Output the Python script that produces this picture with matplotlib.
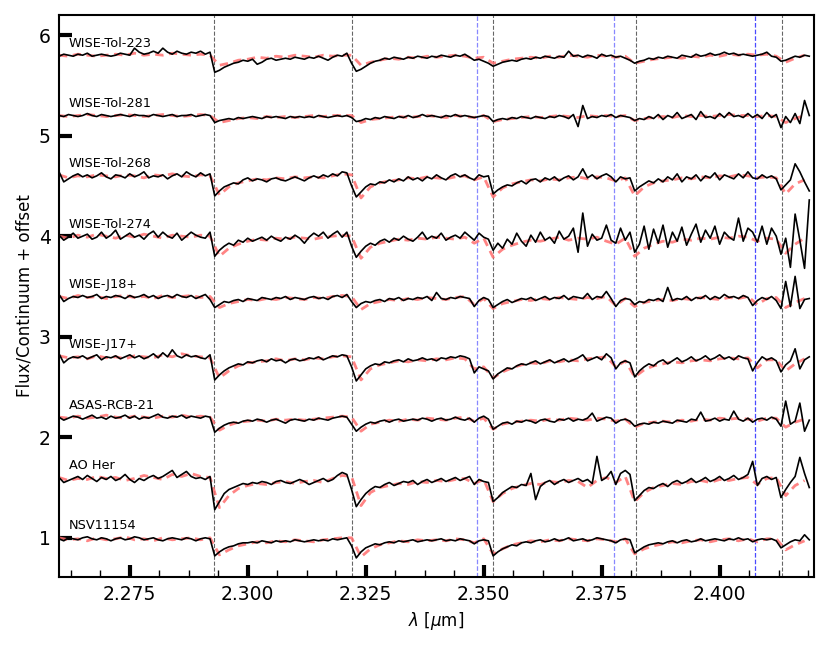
import numpy as np
import matplotlib
matplotlib.use("Agg")
import matplotlib.pyplot as plt
from matplotlib.ticker import AutoMinorLocator

# observed spectra, flux/continuum in percent, 2.260-2.419 um every 0.001 um
obs_start, obs_step = 2.260, 0.001
# model spectra, flux/continuum in percent, 2.260-2.418 um every 0.002 um
mod_start, mod_step = 2.260, 0.002

stars = ["NSV11154", "AO Her", "ASAS-RCB-21", "WISE-J17+", "WISE-J18+",
         "WISE-Tol-274", "WISE-Tol-268", "WISE-Tol-281", "WISE-Tol-223"]
offsets = [0.0, 0.6, 1.2, 1.8, 2.4, 3.0, 3.6, 4.2, 4.8]

# 12CO bandheads (black) and 13CO bandheads (blue)
co12_lines = [2.2929, 2.3221, 2.3519, 2.3822, 2.4133]
co13_lines = [2.3485, 2.3776, 2.4074]

obs_nsv11154 = [
    99, 97, 100, 99, 98, 100, 101, 99, 98, 100, 99, 97, 99, 100, 98, 99, 101, 100, 98, 99,
    100, 98, 97, 99, 100, 99, 98, 100, 99, 97, 99, 100, 99,
    82,
    86, 89, 91, 92, 94, 95, 95, 96, 95, 97, 96, 95, 97, 96, 97, 96, 98, 97, 96, 97,
    98, 97, 98, 97, 99, 98, 99, 100,
    92, 80,
    86, 90, 92, 94, 93, 95, 96, 95, 97, 96, 97, 98, 96, 97, 98, 97, 98, 99, 97, 98,
    97, 99, 98, 97,
    94, 97, 98, 97, 82,
    86, 89, 91, 93, 92, 95, 96, 95, 97, 98, 96, 97, 99, 97, 98, 100, 97, 98, 99, 97,
    98, 100, 99, 98, 97,
    95, 98, 99, 98, 85,
    88, 91, 93, 94, 95, 94, 96, 97, 95, 97, 98, 96, 97, 99, 97, 98, 99, 98, 97, 99,
    98, 100, 98, 99,
    96, 98, 99, 98, 99, 97, 90,
    93, 96, 98, 97, 103, 98]
obs_ao_her = [
    100, 95, 97, 99, 101, 98, 102, 99, 96, 100, 98, 101, 97, 99, 103, 98, 95, 99, 97, 100,
    102, 99, 101, 104, 107, 100, 103, 106, 101, 99, 100, 98, 101,
    68,
    76, 84, 88, 90, 92, 94, 93, 95, 94, 96, 95, 93, 96, 97, 95, 94, 96, 98, 96, 93,
    95, 97, 99, 96, 98, 102, 105, 103,
    88, 71,
    78, 84, 88, 91, 90, 93, 95, 92, 94, 96, 95, 97, 93, 96, 98, 95, 97, 99, 96, 98,
    100, 97, 99, 101,
    93, 98, 96, 95, 76,
    80, 85, 88, 91, 90, 93, 92, 104, 78, 91, 95, 97, 93, 96, 98, 95, 97, 99, 96, 98,
    94, 121, 97, 100, 106,
    93, 104, 107, 103, 77,
    82, 87, 90, 89, 92, 94, 91, 95, 97, 94, 96, 99, 95, 97, 100, 96, 98, 101, 97, 99,
    102, 98, 100, 103,
    116, 92, 99, 101, 98, 100, 80,
    88, 95, 101, 120, 104, 90]
obs_asas_rcb_21 = [
    100, 97, 99, 101, 100, 98, 100, 102, 99, 100, 98, 101, 99, 100, 102, 99, 101, 98, 100, 99,
    101, 103, 100, 99, 101, 100, 102, 99, 101, 100, 99, 101, 100,
    85,
    89, 92, 94, 95, 94, 96, 97, 96, 98, 97, 95, 97, 98, 96, 94, 97, 98, 97, 96, 98,
    97, 99, 98, 97, 99, 100, 101, 100,
    93, 86,
    90, 93, 95, 94, 96, 97, 95, 97, 98, 96, 97, 98, 97, 99, 98, 96, 98, 99, 97, 98,
    100, 98, 97, 99,
    95, 99, 101, 98, 88,
    91, 94, 95, 93, 96, 95, 97, 96, 94, 97, 98, 96, 95, 98, 97, 99, 96, 98, 97, 99,
    104, 96, 98, 100, 99,
    94, 97, 98, 96, 91,
    93, 94, 93, 95, 94, 96, 95, 94, 97, 96, 95, 98, 97, 105, 96, 97, 99, 96, 98, 97,
    106, 98, 96, 99,
    95, 98, 99, 97, 100, 98, 91,
    116, 93, 96, 114, 86, 97]
obs_wise_j17 = [
    103, 94, 98, 100, 99, 101, 98, 100, 102, 97, 100, 99, 101, 98, 100, 102, 99, 101, 98, 100,
    103, 99, 104, 100, 107, 101, 99, 102, 100, 101, 99, 98, 102,
    77,
    82, 86, 89, 91, 93, 92, 95, 94, 96, 97, 95, 98, 96, 97, 94, 97, 98, 96, 97, 99,
    98, 100, 97, 99, 101, 100, 102, 101,
    90, 76,
    82, 88, 91, 93, 92, 95, 94, 96, 97, 95, 98, 96, 97, 99, 97, 98, 96, 99, 98, 100,
    99, 101, 100, 98,
    84, 90, 88, 86, 78,
    83, 86, 89, 88, 91, 93, 92, 94, 96, 93, 95, 97, 94, 96, 98, 95, 97, 99, 102, 96,
    98, 100, 97, 103, 99,
    88, 94, 96, 94, 80,
    86, 90, 93, 91, 95, 97, 93, 96, 99, 95, 97, 100, 96, 98, 101, 97, 99, 102, 98, 100,
    97, 101, 99, 98,
    86, 94, 100, 97, 99, 96, 85,
    92, 96, 108, 88, 97, 100]
obs_wise_j18 = [
    102, 95, 98, 100, 99, 101, 99, 100, 102, 98, 100, 99, 101, 100, 98, 101, 99, 100, 102, 99,
    101, 98, 100, 101, 99, 102, 100, 99, 101, 98, 100, 102, 97,
    89,
    92, 95, 94, 96, 97, 95, 98, 97, 96, 99, 98, 97, 99, 98, 100, 97, 99, 98, 97, 99,
    100, 98, 99, 97, 100, 101, 99, 102,
    95, 89,
    93, 95, 94, 96, 97, 95, 98, 97, 99, 96, 98, 97, 99, 98, 100, 96, 104, 98, 97, 99,
    98, 100, 99, 98,
    90, 96, 99, 97, 89,
    92, 95, 97, 94, 96, 98, 97, 99, 96, 98, 100, 97, 99, 98, 101, 97, 100, 99, 98, 103,
    97, 100, 99, 105, 98,
    90, 96, 98, 97, 92,
    95, 94, 97, 96, 98, 95, 109, 96, 98, 97, 100, 96, 99, 98, 101, 97, 100, 98, 102, 99,
    100, 98, 101, 99,
    91, 96, 99, 97, 100, 96, 88,
    115, 90, 120, 88, 97, 98]
obs_wise_tol_274 = [
    101, 96, 99, 103, 98, 100, 102, 97, 99, 104, 98, 101, 106, 97, 100, 103, 99, 101, 97, 102,
    105, 99, 104, 100, 98, 103, 96, 100, 104, 101, 99, 98, 104,
    80,
    86, 90, 93, 91, 96, 94, 98, 95, 97, 99, 96, 100, 97, 95, 99, 97, 101, 98, 93, 99,
    103, 100, 104, 98, 102, 105, 99, 104,
    90, 79,
    85, 90, 93, 91, 95, 97, 94, 98, 96, 100, 97, 95, 99, 104, 97, 100, 98, 103, 96, 99,
    101, 98, 104, 100,
    96, 103, 99, 97, 86,
    93, 88, 97, 92, 103, 95, 90, 101, 94, 104, 96, 99, 93, 105, 97, 100, 108, 84, 123, 90,
    102, 96, 98, 111, 96,
    93, 108, 96, 104, 84,
    92, 110, 87, 107, 93, 111, 89, 104, 95, 109, 91, 102, 112, 94, 106, 98, 110, 92, 104, 99,
    96, 118, 95, 108,
    104, 94, 110, 92, 108, 100, 82,
    98, 69, 122, 96, 68, 136]
obs_wise_tol_268 = [
    104, 94, 97, 100, 102, 99, 101, 98, 100, 103, 99, 97, 101, 100, 98, 102, 99, 101, 104, 98,
    100, 99, 101, 97, 100, 102, 99, 104, 101, 99, 103, 100, 102,
    80,
    85, 89, 91, 93, 92, 96, 98, 95, 97, 96, 94, 97, 98, 96, 95, 97, 99, 97, 95, 98,
    100, 98, 101, 99, 102, 100, 104, 103,
    90, 79,
    84, 89, 92, 91, 94, 93, 96, 94, 97, 95, 99, 96, 98, 95, 99, 97, 101, 98, 96, 100,
    102, 99, 101, 98,
    96, 101, 99, 100, 82,
    86, 89, 91, 90, 93, 95, 92, 96, 97, 94, 98, 96, 99, 95, 98, 100, 96, 99, 107, 98,
    101, 97, 100, 102, 99,
    94, 99, 97, 98, 85,
    89, 92, 95, 93, 97, 94, 99, 96, 102, 94, 99, 97, 101, 95, 100, 98, 103, 96, 101, 99,
    97, 102, 98, 104,
    98, 97, 101, 98, 100, 97, 86,
    91, 96, 112, 104, 94, 85]
obs_wise_tol_281 = [
    100, 99, 101, 100, 99, 100, 102, 100, 99, 101, 100, 99, 100, 101, 100, 99, 101, 100, 100, 99,
    101, 100, 99, 100, 101, 99, 100, 100, 101, 99, 100, 101, 100,
    93,
    95, 96, 97, 96, 98, 97, 98, 99, 98, 97, 99, 98, 99, 98, 97, 99, 98, 99, 98, 99,
    98, 100, 99, 98, 99, 100, 99, 100,
    98, 94,
    95, 97, 96, 98, 97, 99, 98, 97, 99, 98, 100, 98, 99, 101, 99, 100, 99, 98, 100, 99,
    101, 99, 100, 99,
    98, 99, 100, 99, 94,
    96, 97, 96, 98, 97, 99, 98, 97, 99, 98, 97, 99, 98, 100, 99, 97, 101, 89, 110, 97,
    99, 98, 100, 99, 101,
    98, 100, 99, 98, 95,
    97, 96, 99, 97, 101, 96, 100, 98, 103, 97, 99, 101, 96, 104, 98, 99, 97, 102, 98, 103,
    99, 100, 98, 102,
    98, 101, 97, 103, 98, 101, 88,
    99, 93, 102, 92, 115, 100]
obs_wise_tol_223 = [
    99, 101, 100, 99, 101, 100, 102, 99, 100, 101, 100, 99, 100, 102, 101, 100, 107, 103, 101, 102,
    104, 102, 107, 103, 101, 104, 102, 101, 103, 102, 104, 101, 103,
    83,
    85, 88, 90, 92, 93, 95, 94, 96, 91, 93, 96, 97, 95, 96, 97, 96, 98, 97, 96, 98,
    97, 99, 97, 95, 98, 100, 99, 102,
    92, 84,
    86, 89, 92, 94, 95, 97, 96, 98, 97, 96, 98, 97, 99, 98, 97, 99, 98, 100, 99, 98,
    100, 99, 101, 98,
    95, 96, 94, 92, 89,
    91, 93, 94, 95, 94, 96, 97, 96, 98, 97, 99, 98, 97, 99, 98, 104, 99, 100, 98, 100,
    99, 97, 101, 99, 100,
    98, 99, 97, 95, 92,
    94, 95, 97, 96, 98, 97, 99, 98, 97, 100, 99, 98, 101, 99, 100, 102, 100, 101, 103, 101,
    102, 100, 101, 100,
    99, 100, 101, 103, 99, 98, 94,
    95, 97, 99, 98, 100, 99]

mod_nsv11154 = [
    100, 98, 99, 97, 100, 98, 99, 101, 98, 99, 97, 100, 98, 99, 100, 98, 100,
    83, 88, 92, 94, 96, 95, 97, 96, 98, 97, 96, 98, 99, 100,
    100, 81, 89, 93, 95, 97, 96, 98, 97, 98, 97, 99, 98,
    95, 99, 84, 89, 93, 95, 97, 96, 98, 97, 99, 98, 97, 99, 98,
    96, 99, 84, 89, 92, 94, 96, 95, 97, 98, 96, 98, 99, 97, 99,
    96, 99, 99, 88, 93, 97]
mod_ao_her = [
    100, 97, 99, 98, 101, 99, 100, 97, 99, 102, 100, 98, 103, 101, 104, 101, 100,
    70, 82, 89, 92, 94, 93, 95, 96, 94, 96, 97, 95, 99, 102,
    101, 72, 85, 90, 92, 94, 93, 96, 95, 97, 96, 98, 99,
    94, 98, 76, 84, 89, 92, 94, 93, 96, 95, 97, 96, 90, 97, 100,
    95, 101, 76, 85, 90, 92, 94, 93, 96, 97, 95, 98, 97, 99, 100,
    93, 99, 100, 82, 92, 97]
mod_asas_rcb_21 = [
    100, 99, 101, 99, 100, 102, 100, 99, 101, 100, 99, 101, 100, 102, 100, 101, 100,
    87, 92, 95, 96, 97, 96, 98, 97, 98, 97, 98, 99, 100, 101,
    100, 86, 93, 95, 97, 96, 98, 97, 99, 98, 97, 99, 100,
    96, 99, 88, 93, 95, 96, 97, 96, 98, 97, 99, 98, 97, 99, 98,
    96, 98, 90, 94, 95, 96, 95, 97, 96, 98, 97, 99, 98, 99, 98,
    96, 99, 99, 90, 95, 98]
mod_wise_j17 = [
    101, 99, 100, 98, 101, 99, 100, 98, 101, 100, 99, 102, 100, 103, 101, 100, 99,
    79, 86, 91, 94, 95, 96, 98, 96, 98, 97, 99, 98, 100, 101,
    100, 77, 88, 92, 94, 96, 95, 97, 96, 98, 97, 99, 98,
    88, 90, 79, 85, 89, 92, 94, 93, 96, 95, 97, 96, 98, 99, 100,
    90, 96, 80, 87, 91, 93, 95, 94, 96, 97, 96, 98, 99, 98, 99,
    89, 97, 97, 86, 93, 98]
mod_wise_j18 = [
    100, 98, 101, 99, 100, 98, 100, 101, 99, 100, 98, 101, 99, 100, 101, 99, 100,
    89, 93, 95, 97, 96, 98, 97, 99, 98, 97, 99, 98, 100, 101,
    100, 87, 93, 95, 97, 96, 98, 97, 99, 98, 97, 99, 100,
    92, 98, 88, 93, 95, 97, 96, 98, 97, 99, 98, 97, 99, 98, 100,
    91, 98, 90, 94, 96, 97, 96, 98, 97, 99, 98, 97, 99, 98, 100,
    92, 98, 99, 89, 94, 98]
mod_wise_tol_274 = [
    100, 98, 101, 99, 102, 100, 98, 101, 99, 102, 100, 98, 101, 100, 99, 101, 100,
    80, 88, 92, 95, 97, 96, 98, 97, 99, 98, 97, 99, 100, 101,
    100, 78, 89, 93, 95, 97, 96, 98, 97, 99, 98, 97, 99,
    93, 98, 79, 87, 91, 94, 96, 95, 97, 99, 96, 98, 97, 99, 95,
    92, 98, 80, 88, 92, 95, 94, 97, 96, 98, 97, 99, 98, 100, 99,
    95, 98, 97, 83, 92, 98]
mod_wise_tol_268 = [
    101, 98, 100, 99, 101, 100, 99, 101, 100, 98, 101, 100, 102, 100, 99, 101, 100,
    81, 89, 93, 95, 97, 96, 98, 97, 99, 98, 99, 98, 100, 102,
    101, 78, 89, 93, 95, 96, 98, 97, 99, 98, 97, 99, 100,
    96, 99, 79, 88, 92, 94, 96, 95, 97, 96, 98, 99, 97, 99, 98,
    95, 98, 80, 89, 93, 95, 96, 98, 97, 99, 98, 100, 99, 101, 100,
    98, 99, 98, 82, 92, 96]
mod_wise_tol_281 = [
    100, 99, 100, 101, 100, 99, 100, 101, 100, 99, 100, 101, 100, 99, 100, 101, 100,
    93, 95, 97, 98, 97, 99, 98, 99, 98, 99, 100, 99, 100, 100,
    100, 93, 96, 97, 98, 99, 98, 99, 100, 99, 98, 100, 99,
    98, 100, 94, 96, 97, 98, 99, 98, 99, 100, 99, 98, 100, 99, 100,
    99, 100, 95, 97, 98, 99, 98, 100, 99, 100, 99, 100, 101, 100, 100,
    99, 100, 99, 93, 97, 100]
mod_wise_tol_223 = [
    100, 99, 101, 100, 99, 100, 101, 100, 102, 100, 101, 100, 102, 101, 100, 101, 100,
    90, 92, 95, 96, 98, 97, 99, 98, 100, 99, 98, 100, 99, 100,
    100, 90, 93, 95, 97, 96, 98, 97, 99, 98, 99, 100, 99,
    97, 98, 92, 94, 96, 97, 98, 97, 99, 98, 100, 99, 98, 100, 99,
    98, 99, 92, 94, 96, 97, 98, 97, 99, 98, 100, 99, 101, 100, 101,
    100, 101, 99, 93, 97, 100]

observed = [obs_nsv11154, obs_ao_her, obs_asas_rcb_21, obs_wise_j17, obs_wise_j18,
            obs_wise_tol_274, obs_wise_tol_268, obs_wise_tol_281, obs_wise_tol_223]
models = [mod_nsv11154, mod_ao_her, mod_asas_rcb_21, mod_wise_j17, mod_wise_j18,
          mod_wise_tol_274, mod_wise_tol_268, mod_wise_tol_281, mod_wise_tol_223]

for name, o, m in zip(stars, observed, models):
    assert len(o) == 160 and len(m) == 80, (name, len(o), len(m))

wl_obs = obs_start + obs_step * np.arange(160)
wl_mod = mod_start + mod_step * np.arange(80)

fig = plt.figure(figsize=(8.29, 6.46), dpi=100)
ax = fig.add_axes([0.0712, 0.1068, 0.9107, 0.87])

for name, off, o, m in zip(stars, offsets, observed, models):
    ax.plot(wl_mod, np.array(m) / 100.0 + off, color='#ff6f6f', lw=2.0,
            ls=(0, (3, 2)), alpha=0.85, zorder=2)
    ax.plot(wl_obs, np.array(o) / 100.0 + off, color='k', lw=1.2, zorder=3)
    ax.text(2.2621, off + 1.12, name, fontsize=9.3, va='center', ha='left')

for wl in co12_lines:
    ax.axvline(wl, color='k', ls='--', lw=0.8, alpha=0.6, zorder=1)
for wl in co13_lines[:2]:
    ax.axvline(wl, color='#6a6aff', ls='--', lw=0.9, alpha=0.8, zorder=1)
ax.axvline(co13_lines[2], color='#4a4aff', ls='--', lw=0.9, zorder=1)

ax.set_xlim(2.26, 2.42)
ax.set_ylim(0.61, 6.2)
ax.set_xticks([2.275, 2.300, 2.325, 2.350, 2.375, 2.400])
ax.set_yticks([1, 2, 3, 4, 5, 6])
ax.xaxis.set_minor_locator(AutoMinorLocator(4))
ax.tick_params(which='major', direction='in', length=9, width=3, labelsize=13.5, pad=6)
ax.tick_params(which='minor', direction='in', length=5, width=1)
ax.tick_params(axis='y', which='minor', left=False)
for s in ax.spines.values():
    s.set_linewidth(1.5)

ax.set_xlabel(r'$\lambda$ [$\mu$m]', fontsize=12)
ax.set_ylabel('Flux/Continuum + offset', fontsize=12)

fig.savefig('out.png', dpi=100)
